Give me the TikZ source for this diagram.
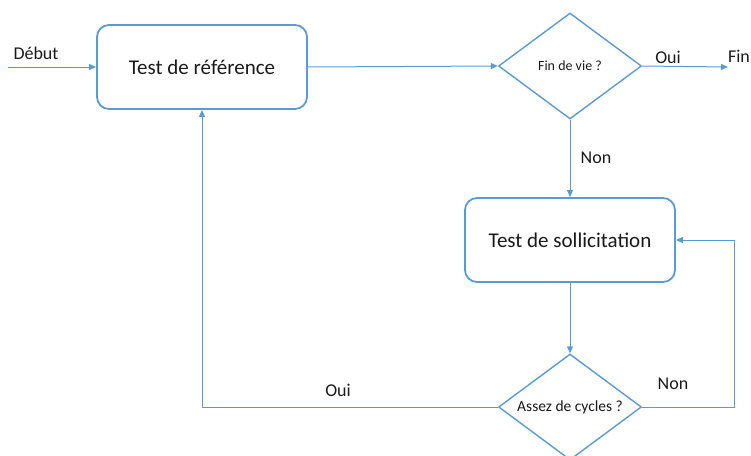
\documentclass[tikz,border=0pt]{standalone}
\usepackage{fontspec}
\setmainfont{Carlito}
\usepackage{tikz}
\usetikzlibrary{arrows.meta, shapes.geometric}
\definecolor{lineblue}{HTML}{5B9BD5}
\definecolor{txtgray}{HTML}{1A1A1A}
\tikzset{
  proc/.style ={draw=lineblue, rounded corners=12pt, minimum width=210pt, minimum height=84pt, line width=1.8pt, font=\fontsize{21}{24}\selectfont, text=txtgray},
  dec/.style  ={draw=lineblue, diamond, minimum width=143pt, minimum height=106pt, inner sep=0pt, line width=1.4pt},
  dtxt/.style ={font=\fontsize{14}{16}\selectfont, text=txtgray},
  flow/.style ={-{Triangle[length=7pt, width=6pt]}, line width=1pt, lineblue},
  lbl/.style  ={font=\fontsize{18}{21}\selectfont, text=txtgray},
}

\begin{document}
\begin{tikzpicture}[x=1pt, y=-1pt]
  \useasboundingbox (0,0) rectangle (751,455);

  % --- blocks ---
  \node[proc] (ref)  at (202,67)  {Test de référence};
  \node[dec]  (fdv)  at (570,66)  {};
  \node[dtxt] (fdvt) at (fdv)     {Fin de vie ?};
  \node[proc] (sol)  at (570,240) {Test de sollicitation};
  \node[dec]  (cyc)  at (570,407) {};
  \node[dtxt, font=\fontsize{15.5}{18}\selectfont] (cyct) at (cyc) {Assez de cycles ?};

  % --- ends ---
  \coordinate (deb) at (8,67);
  \coordinate (fin) at (728,67);
  \node[lbl] (ldeb) at (36,53)  {Début};
  \node[lbl] (lfin) at (739,56) {Fin};

  % --- connectors ---
  \draw[flow] (deb) -- (ref.west);
  \draw[flow] (ref.east) -- (fdv.west);
  \draw[flow] (fdv.east) -- (fin);
  \draw[flow] (fdv.south) -- (sol.north);
  \draw[flow] (sol.south) -- (cyc.north);
  \draw[flow] (cyc.east) -- (734,407) |- (sol.east);
  \draw[flow] (cyc.west) -| (ref.south);

  % --- labels ---
  \node[lbl] (oui1) at (668,57)  {Oui};
  \node[lbl] (non1) at (596,158) {Non};
  \node[lbl] (non2) at (673,384) {Non};
  \node[lbl] (oui2) at (338,390) {Oui};
\end{tikzpicture}
\end{document}
